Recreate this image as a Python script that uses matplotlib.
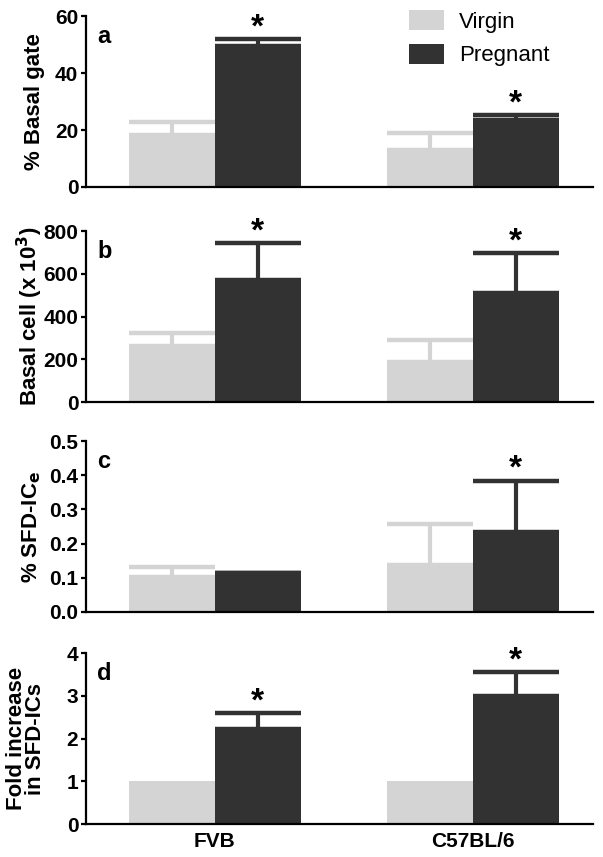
import matplotlib
matplotlib.use("Agg")
import matplotlib.pyplot as plt

plt.rcParams["font.family"] = ["Liberation Sans", "DejaVu Sans"]
plt.rcParams["mathtext.default"] = "bf"

strains = ["FVB", "C57BL/6"]
groups = ["Virgin", "Pregnant"]
colors = ["#d4d4d4", "#323232"]

# panel values per strain (FVB, C57BL/6), error = upper SEM
basal_gate_virgin = [18.1, 12.9]
basal_gate_virgin_err = [4.7, 6.2]
basal_gate_preg = [49.5, 23.4]
basal_gate_preg_err = [2.3, 1.9]

basal_cell_virgin = [260, 187]
basal_cell_virgin_err = [64, 102]
basal_cell_preg = [571, 512]
basal_cell_preg_err = [173, 184]

sfd_virgin = [0.103, 0.136]
sfd_virgin_err = [0.030, 0.120]
sfd_preg = [0.114, 0.234]
sfd_preg_err = [0.001, 0.150]

fold_virgin = [1.0, 1.0]
fold_virgin_err = [0, 0]
fold_preg = [2.22, 3.0]
fold_preg_err = [0.38, 0.56]

panels = [
    ("a", "% Basal gate", basal_gate_virgin, basal_gate_virgin_err,
     basal_gate_preg, basal_gate_preg_err, [True, True], 60, [0, 20, 40, 60],
     ["0", "20", "40", "60"]),
    ("b", "Basal cell (x 10$^\\mathbf{3}$)", basal_cell_virgin, basal_cell_virgin_err,
     basal_cell_preg, basal_cell_preg_err, [True, True], 800, [0, 200, 400, 600, 800],
     ["0", "200", "400", "600", "800"]),
    ("c", "% SFD-IC$_\\mathbf{e}$", sfd_virgin, sfd_virgin_err,
     sfd_preg, sfd_preg_err, [False, True], 0.5, [0, 0.1, 0.2, 0.3, 0.4, 0.5],
     ["0.0", "0.1", "0.2", "0.3", "0.4", "0.5"]),
    ("d", "Fold increase\nin SFD-ICs", fold_virgin, fold_virgin_err,
     fold_preg, fold_preg_err, [True, True], 4, [0, 1, 2, 3, 4],
     ["0", "1", "2", "3", "4"]),
]

fig = plt.figure(figsize=(6.03, 8.57), dpi=100)
bottoms = [0.7818, 0.5309, 0.2859, 0.0385]
label_x = [-0.08, -0.08, -0.085, -0.078]
centers = [0, 3]

for i, (letter, ylab, v, ve, p, pe, stars, ymax, yt, ytl) in enumerate(panels):
    ax = fig.add_axes([0.1426, bottoms[i], 0.841, 0.1995])
    xv = [c - 0.5 for c in centers]
    xp = [c + 0.5 for c in centers]
    ax.bar(xv, v, width=1.0, color=colors[0], label=groups[0], zorder=2)
    ax.bar(xp, p, width=1.0, color=colors[1], label=groups[1], zorder=2)
    for xs, vals, errs, col in [(xv, v, ve, colors[0]), (xp, p, pe, colors[1])]:
        for x, val, e in zip(xs, vals, errs):
            if e > 0:
                ax.errorbar(x, val, yerr=[[0], [e]], fmt="none", ecolor=col,
                            elinewidth=3, capsize=31, capthick=3.2, zorder=1)
    for x, val, e, s in zip(xp, p, pe, stars):
        if s:
            ax.annotate("*", (x, val + e), xytext=(0, 2), textcoords="offset points",
                        ha="center", va="baseline", fontsize=24, fontweight="bold")
    ax.set_xlim(-1.5, 4.4)
    ax.set_ylim(0, ymax)
    ax.set_yticks(yt)
    ax.set_yticklabels(ytl, fontsize=15, fontweight="bold")
    ax.spines["top"].set_visible(False)
    ax.spines["right"].set_visible(False)
    ax.spines["left"].set_linewidth(1.6)
    ax.spines["bottom"].set_linewidth(1.6)
    ax.tick_params(axis="y", length=3.5, width=1.6, pad=2)
    ax.tick_params(axis="x", length=0, pad=6)
    if i == 3:
        ax.set_xticks(centers)
        ax.set_xticklabels(strains, fontsize=15, fontweight="bold")
    else:
        ax.set_xticks([])
    ax.set_ylabel(ylab, fontsize=16, fontweight="bold", linespacing=0.9)
    ax.yaxis.set_label_coords(label_x[i], 0.5)
    ax.text(0.022, 0.842, letter, transform=ax.transAxes, fontsize=17,
            fontweight="bold", ha="left", va="baseline")
    if i == 0:
        ax.legend(loc="upper left", bbox_to_anchor=(0.637, 1.035), frameon=False,
                  fontsize=16, handlelength=1.58, handleheight=1.0,
                  labelspacing=0.5, handletextpad=0.68, borderpad=0,
                  borderaxespad=0)

fig.savefig("out.png", dpi=100)
